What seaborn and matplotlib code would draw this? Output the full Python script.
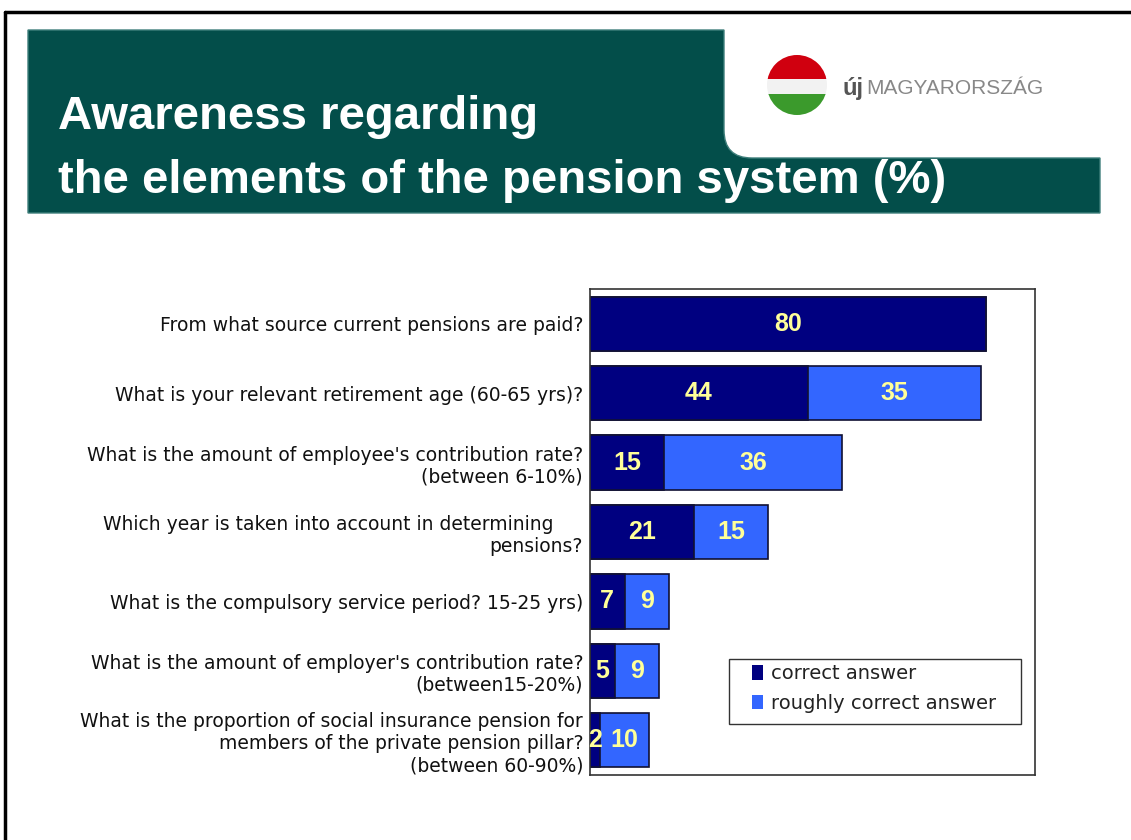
import numpy as np
import pandas as pd
import matplotlib
matplotlib.use("Agg")
import matplotlib.pyplot as plt
from matplotlib.patches import PathPatch, Circle, Rectangle, Patch
from matplotlib.path import Path
from matplotlib.lines import Line2D
import seaborn as sns

# Survey questions and shares of answers (%)
questions = [
    "From what source current pensions are paid?",
    "What is your relevant retirement age (60-65 yrs)?",
    "What is the amount of employee's contribution rate?\n(between 6-10%)",
    "Which year is taken into account in determining     \npensions?",
    "What is the compulsory service period? 15-25 yrs)",
    "What is the amount of employer's contribution rate?\n(between15-20%)",
    "What is the proportion of social insurance pension for\nmembers of the private pension pillar?\n(between 60-90%)",
]
correct = [80, 44, 15, 21, 7, 5, 2]
roughly = [0, 35, 36, 15, 9, 9, 10]
series_names = ["correct answer", "roughly correct answer"]

NAVY = "#000080"
LIGHT = "#3366ff"
TEAL = "#034e4a"
LABEL_YELLOW = "#ffff99"

sns.set_theme(style="white")
plt.rcParams["font.family"] = ["DejaVu Sans"]

W, H = 1131, 840
fig = plt.figure(figsize=(W / 100, H / 100), dpi=100)


def px(x, y):
    return (x / W, 1 - y / H)


# page frame (top and left rules)
fig.add_artist(Line2D([px(5, 0)[0], 1.0], [px(0, 12)[1]] * 2, color="black", lw=2.5))
fig.add_artist(Line2D([px(5, 0)[0]] * 2, [px(0, 12)[1], 0.0], color="black", lw=2.5))

# header banner with a rounded notch for the logo
r = 28
verts = [px(28, 30), px(724, 30), px(724, 158 - r), px(724, 158), px(724 + r, 158),
         px(1100, 158), px(1100, 213), px(28, 213), px(28, 30)]
codes = [Path.MOVETO, Path.LINETO, Path.LINETO, Path.CURVE3, Path.CURVE3,
         Path.LINETO, Path.LINETO, Path.LINETO, Path.CLOSEPOLY]
fig.add_artist(PathPatch(Path(verts, codes), facecolor=TEAL, edgecolor="#3f7f7b",
                         lw=1, transform=fig.transFigure))

fig.text(*px(58, 117), "Awareness regarding", color="white", fontsize=34,
         fontweight="bold", family="Liberation Sans", va="center", ha="left")
fig.text(*px(58, 181), "the elements of the pension system (%)", color="white",
         fontsize=34, fontweight="bold", family="Liberation Sans", va="center", ha="left")

# logo: tricolour sphere and wordmark
lax = fig.add_axes([767 / W, 1 - 115 / H, 60 / W, 60 / H])
lax.set_xlim(-1, 1)
lax.set_ylim(-1, 1)
lax.set_aspect("equal")
lax.axis("off")
clip = Circle((0, 0), 1, transform=lax.transData)
for y0, y1, c in [(0.2, 1.0, "#d0000f"), (-0.3, 0.2, "#f2f2f2"), (-1.0, -0.3, "#3b9a2c")]:
    rect = Rectangle((-1, y0), 2, y1 - y0, facecolor=c, edgecolor="none")
    lax.add_patch(rect)
    rect.set_clip_path(clip)
fig.text(*px(842, 88), "új", color="#555555", fontsize=17, fontweight="bold",
         family="Liberation Sans", va="center", ha="left")
fig.text(*px(866, 88), "MAGYARORSZÁG", color="#888888", fontsize=15,
         family="Liberation Sans", va="center", ha="left")

# stacked horizontal bars
ax = fig.add_axes([590 / W, 1 - 775 / H, 445 / W, 486 / H])
df = pd.DataFrame({"question": questions, "correct": correct, "roughly": roughly})
df["total"] = df["correct"] + df["roughly"]

sns.barplot(data=df, y="question", x="total", color=LIGHT, orient="h", width=0.78,
            edgecolor="#111133", linewidth=1.2, saturation=1, ax=ax)
sns.barplot(data=df, y="question", x="correct", color=NAVY, orient="h", width=0.78,
            edgecolor="#111133", linewidth=1.2, saturation=1, ax=ax)

ax.set_xlim(0, 90)
ax.set_ylim(6.5, -0.5)
ax.set_xlabel("")
ax.set_ylabel("")
ax.set_xticks([])
ax.tick_params(axis="y", length=0, pad=5)
for lab in ax.get_yticklabels():
    lab.set_fontsize(13.5)
    lab.set_color("#111111")
    lab.set_horizontalalignment("right")
    lab.set_multialignment("right")
for s in ax.spines.values():
    s.set_visible(True)
    s.set_color("#333333")
    s.set_linewidth(1.2)

value_font = dict(color=LABEL_YELLOW, fontsize=18, fontweight="bold",
                  family="Liberation Sans", va="center", ha="center")
for i, (c, rg) in enumerate(zip(correct, roughly)):
    if c:
        ax.text(c / 2 if c > 3 else 1.1, i, str(c), **value_font)
    if rg:
        ax.text(c + rg / 2, i, str(rg), **value_font)

# legend: framed box with square colour keys
ax.add_patch(Rectangle(((729 - 590) / 445, (775 - 724) / 486), (1021 - 729) / 445, 65 / 486,
                       transform=ax.transAxes, facecolor="white", edgecolor="#333333",
                       lw=1.0, zorder=4))
handles = [Patch(facecolor=NAVY, edgecolor="none"), Patch(facecolor=LIGHT, edgecolor="none")]
leg = ax.legend(handles, series_names, loc="upper left",
                bbox_to_anchor=((752 - 590) / 445, (775 - 664) / 486),
                fontsize=14, frameon=False, handlelength=0.55, handleheight=0.8,
                handletextpad=0.45, borderpad=0, borderaxespad=0, labelspacing=0.55)
leg.set_zorder(5)
for t in leg.get_texts():
    t.set_color("#222222")

fig.savefig("out.png", dpi=100, facecolor="white")
